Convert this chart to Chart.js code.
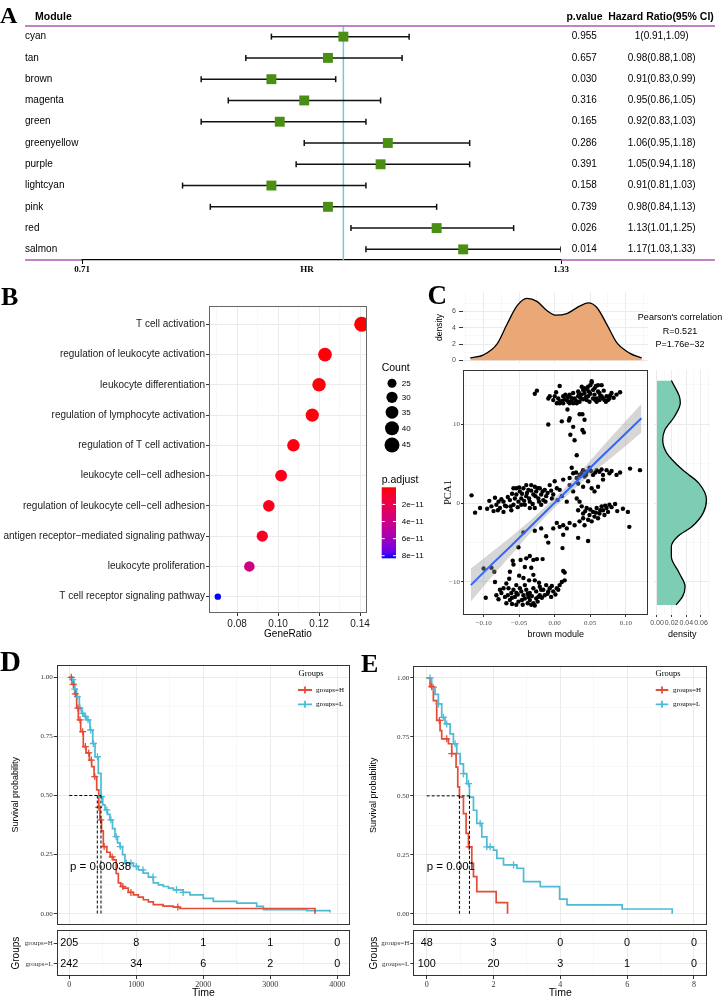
<!DOCTYPE html>
<html><head><meta charset="utf-8">
<script src="https://cdn.jsdelivr.net/npm/chart.js@4.4.1/dist/chart.umd.min.js"></script>
<style>
body{margin:0;background:#fff;}
#wrap{position:relative;width:723px;height:997px;overflow:hidden;background:#fff;}
canvas{position:absolute;}
.lab{position:absolute;font-family:"Liberation Serif","Times New Roman",serif;font-weight:bold;line-height:1;color:#000;}
</style></head><body><div id="wrap">
<canvas id="cA" width="723" height="280" style="left:0;top:0"></canvas>
<canvas id="cB" width="440" height="355" style="left:0;top:290px"></canvas>
<canvas id="cCt" width="303" height="85" style="left:420px;top:285px"></canvas>
<canvas id="cC" width="240" height="280" style="left:420px;top:365px"></canvas>
<canvas id="cCr" width="75" height="280" style="left:648px;top:365px"></canvas>
<canvas id="cD" width="360" height="285" style="left:0;top:645px"></canvas>
<canvas id="cDr" width="360" height="74" style="left:0;top:925px"></canvas>
<canvas id="cE" width="363" height="285" style="left:360px;top:645px"></canvas>
<canvas id="cEr" width="363" height="74" style="left:360px;top:925px"></canvas>
<div class="lab" style="left:0;top:2.5px;font-size:24px">A</div>
<div class="lab" style="left:1px;top:283.7px;font-size:26px">B</div>
<div class="lab" style="left:427.5px;top:282px;font-size:27px">C</div>
<div class="lab" style="left:0;top:646.6px;font-size:29px">D</div>
<div class="lab" style="left:361px;top:650.6px;font-size:26px">E</div>
</div>
<script>
// ---------------- DATA ----------------
// Panel A: forest plot
const modules = ['cyan','tan','brown','magenta','green','greenyellow','purple','lightcyan','pink','red','salmon'];
const hr      = [1,0.98,0.91,0.95,0.92,1.06,1.05,0.91,0.98,1.13,1.17];
const hrLow   = [0.91,0.88,0.83,0.86,0.83,0.95,0.94,0.81,0.84,1.01,1.03];
const hrHigh  = [1.09,1.08,0.99,1.05,1.03,1.18,1.18,1.03,1.13,1.25,1.33];
const pValues = ['0.955','0.657','0.030','0.316','0.165','0.286','0.391','0.158','0.739','0.026','0.014'];
const forestHeaders = ['Module','p.value','Hazard Ratio(95% CI)'];
const forestTicks = [0.71,1.33];
const forestTickLabels = ['0.71','1.33'];

// Panel B: GO dot plot
const goTerms = ['T cell activation','regulation of leukocyte activation','leukocyte differentiation','regulation of lymphocyte activation','regulation of T cell activation','leukocyte cell\u2212cell adhesion','regulation of leukocyte cell\u2212cell adhesion','antigen receptor\u2212mediated signaling pathway','leukocyte proliferation','T cell receptor signaling pathway'];
const geneRatio = [0.1408,0.1229,0.1200,0.1167,0.1075,0.1015,0.0955,0.0923,0.0860,0.0706];
const geneCount = [45,39,38,37,34,32,31,30,28,23];
const pAdjust   = [1e-13,6e-13,1.2e-12,1.5e-12,2.5e-12,3.5e-12,5e-12,6e-12,3.8e-11,8.3e-11];
const geneRatioTicks = [0.08,0.10,0.12,0.14];
const geneRatioTickLabels = ['0.08','0.10','0.12','0.14'];
const countBreaks = [25,30,35,40,45];
const pBreaks = [2e-11,4e-11,6e-11,8e-11];
const pBreakLabels = ['2e\u221211','4e\u221211','6e\u221211','8e\u221211'];

// Panel C: scatter brown module vs PCA1
const scatterPoints = [
[-0.028,13.9],[-0.025,14.3],[0.007,14.9],[0.002,14.1],[-0.009,13.3],[-0.002,13.1],[0.003,12.7],[0.007,12.9],[0.012,13.6],[0.017,13.1],[0.021,13.8],[0.026,14.0],[0.028,13.3],[0.033,13.6],[0.038,14.8],[0.040,14.4],[0.042,14.0],[0.045,13.1],[0.047,13.6],[0.049,12.9],[0.052,15.3],[0.054,14.4],[0.056,13.8],[0.059,13.3],[0.061,15.0],[0.063,14.0],[0.066,15.0],[0.068,13.3],[0.070,13.1],[0.073,13.6],[0.077,13.3],[0.080,14.0],[0.092,14.1],[0.012,12.7],[0.019,12.9],[0.035,12.9],[0.031,12.7],[0.052,15.5],[0.056,14.6],[0.047,14.8],[-0.007,13.6],[0.024,13.1],[0.007,12.7],[0.014,13.2],[0.042,14.6],[0.061,14.2],[0.038,13.8],[0.048,14.2],[0.059,12.9],[0.063,13.1],[0.005,13.3],[0.033,14.2],[0.021,12.7],[0.054,13.3],[0.066,13.6],[0.075,13.1],[0.040,13.2],[0.026,12.7],
[0.000,13.6],[0.010,13.0],[0.015,13.8],[0.023,13.4],[0.030,13.0],[0.036,13.4],[0.044,13.5],[0.050,13.9],[0.057,13.1],[0.064,13.6],[0.069,14.3],[0.072,12.9],[0.078,13.7],[0.045,14.5],[0.050,15.0],[0.058,14.9],[0.034,14.0],[0.018,13.5],[0.083,13.4],[0.087,13.8],
[0.018,11.9],[0.035,11.3],[0.039,11.3],[0.021,10.8],[0.020,10.5],[0.010,10.4],[0.042,10.6],[-0.009,10.0],[0.026,9.7],[0.039,9.3],[0.041,9.0],[0.022,8.7],[0.028,8.0],[0.031,6.1],
[-0.117,1.0],[-0.105,-0.6],[-0.112,-1.2],[-0.084,0.7],[-0.082,-0.2],[-0.077,-0.6],[-0.072,0.2],[-0.068,-0.4],[-0.063,0.4],[-0.058,1.9],[-0.058,-0.2],[-0.054,1.1],[-0.051,0.2],[-0.049,1.5],[-0.047,0.6],[-0.044,1.9],[-0.042,-0.2],[-0.040,0.9],[-0.037,1.7],[-0.035,0.2],[-0.033,2.3],[-0.030,1.1],[-0.028,-0.6],[-0.026,1.5],[-0.023,0.6],[-0.021,1.9],[-0.019,1.1],[-0.016,0.4],[-0.014,1.7],[-0.012,0.9],[-0.072,-1.1],[-0.089,-0.4],[-0.079,0.2],[-0.061,-0.9],[-0.047,-0.2],[-0.035,-0.6],[-0.019,-0.2],[-0.040,2.3],[-0.054,1.9],[-0.028,2.1],[0.000,2.8],[0.003,1.9],[-0.002,1.1],[0.007,1.7],[0.012,3.0],[0.010,0.9],[-0.007,2.3],[-0.005,1.6],
[-0.095,-0.7],[-0.092,0.3],[-0.086,-1.0],[-0.080,-0.9],[-0.075,0.5],[-0.070,-0.3],[-0.066,0.8],[-0.062,-0.4],[-0.060,1.2],[-0.056,0.6],[-0.052,-0.5],[-0.050,2.0],[-0.046,1.2],[-0.043,0.3],[-0.039,1.3],[-0.036,0.6],[-0.033,1.6],[-0.031,-0.1],[-0.027,0.9],[-0.024,1.9],[-0.022,0.2],[-0.017,1.5],[-0.013,0.2],[-0.010,1.3],[-0.004,0.6],[0.004,0.4],
[0.024,4.5],[0.026,3.8],[0.021,3.2],[0.031,3.2],[0.035,3.6],[0.040,4.2],[0.045,4.0],[0.049,4.5],[0.054,3.6],[0.059,4.2],[0.063,4.0],[0.068,3.6],[0.073,4.2],[0.077,3.8],[0.087,3.6],[0.106,4.4],[0.120,4.2],[0.033,2.5],[0.040,2.1],[0.047,2.8],[0.052,1.9],[0.056,1.5],[0.061,2.1],[0.068,3.0],[0.026,1.5],[0.031,0.6],[0.017,0.2],[0.035,0.2],[0.021,2.3],[0.042,3.4],
[0.030,3.9],[0.038,3.8],[0.044,3.6],[0.051,4.1],[0.057,3.9],[0.066,4.3],[0.080,4.1],[0.092,3.9],
[0.033,-0.9],[0.040,-1.3],[0.045,-0.6],[0.049,-1.5],[0.054,-1.1],[0.056,-1.7],[0.059,-0.6],[0.063,-1.3],[0.066,-0.4],[0.068,-0.9],[0.073,-0.6],[0.077,-0.2],[0.085,-0.1],[0.096,-0.7],[0.103,-1.1],[0.105,-3.0],[0.047,-2.1],[0.040,-1.9],[0.061,-1.9],[0.052,-2.3],[0.035,-2.3],[0.028,-2.8],[0.021,-2.5],[0.012,-2.8],[0.017,-3.2],[0.007,-3.0],[-0.002,-3.2],[-0.019,-3.2],[-0.028,-3.5],[-0.044,-3.7],[0.070,-1.5],[0.075,-1.1],[0.042,-2.8],[0.003,-2.5],
[0.038,-0.4],[0.043,-1.0],[0.050,-0.8],[0.058,-1.2],[0.064,-0.9],[0.071,-0.3],[0.080,-0.5],[0.088,-1.0],
[-0.012,-4.2],[-0.009,-5.0],[0.012,-4.0],[0.033,-4.4],[0.047,-4.8],[0.011,-5.7],[-0.051,-5.6],[-0.059,-7.3],[-0.058,-7.8],[-0.048,-7.2],[-0.040,-7.0],[-0.035,-6.7],[-0.030,-7.2],[-0.025,-7.1],[-0.017,-7.1],[-0.042,-8.1],[-0.033,-8.2],[-0.063,-8.7],[-0.044,-9.5],[-0.030,-9.1],[-0.028,-9.8],[0.012,-8.6],[0.014,-8.8],[0.014,-9.8],[-0.084,-10.0],[-0.068,-10.2],[-0.065,-10.8],[-0.058,-11.0],[-0.054,-11.4],[-0.049,-10.8],[-0.044,-11.7],[-0.040,-11.0],[-0.035,-11.4],[-0.030,-10.8],[-0.026,-11.2],[-0.021,-10.6],[-0.016,-11.0],[-0.012,-10.4],[-0.007,-10.8],[-0.002,-11.2],[0.003,-10.8],[0.007,-10.4],[0.010,-10.0],[-0.082,-11.7],[-0.077,-11.0],[-0.070,-11.9],[-0.063,-12.3],[-0.056,-11.9],[-0.051,-12.5],[-0.042,-12.1],[-0.035,-12.3],[-0.030,-12.7],[-0.026,-12.1],[-0.021,-11.7],[-0.014,-11.7],[-0.005,-11.9],[-0.097,-12.0],[-0.079,-12.2],[-0.068,-12.7],[-0.054,-12.9],[-0.033,-12.9],[-0.028,-13.0],[-0.047,-11.2],[-0.019,-11.0],[-0.009,-11.2],[-0.042,-10.4],[-0.054,-10.4],[-0.072,-10.8],[-0.061,-11.4],[-0.037,-11.9],[-0.023,-11.9],[-0.100,-8.3],[-0.089,-8.2],[-0.085,-8.7],
[-0.075,-11.4],[-0.066,-11.7],[-0.060,-12.0],[-0.052,-11.6],[-0.046,-12.3],[-0.038,-11.5],[-0.032,-11.8],[-0.024,-12.5],[-0.018,-12.0],[-0.010,-11.5],[-0.004,-10.5],[0.001,-11.6],[0.005,-11.0],[-0.060,-12.8],[-0.045,-12.9],[-0.038,-12.7],[-0.064,-9.6],[-0.050,-9.2],[-0.036,-9.8],[-0.022,-10.1]
];
const fitX     = [-0.118,-0.09,-0.06,-0.03,0,0.03,0.06,0.09,0.122];
const fitY     = [-10.4,-7.9,-5.3,-2.6,0.05,2.7,5.4,8.0,10.8];
const bandLow  = [-12.5,-9.5,-6.45,-3.35,-0.55,2.0,4.35,6.55,9.0];
const bandHigh = [-8.3,-6.3,-4.15,-1.85,0.65,3.4,6.45,9.45,12.6];
const topDensX = [-0.1187,-0.100,-0.0812,-0.0671,-0.0531,-0.0390,-0.0250,-0.0110,0.0007,0.0171,0.0358,0.0475,0.0593,0.0733,0.0874,0.1060,0.1225];
const topDensY = [0.29,0.68,1.98,4.42,6.68,7.61,7.24,6.11,5.55,5.74,6.68,7.05,6.48,4.42,2.17,0.86,0.29];
const rightDensPCA = [-12.92,-11.87,-10.6,-8.89,-6.79,-5.51,-4.24,-2.97,-1.23,0.42,2.58,4.23,6.39,8.04,9.31,11.0,12.74,13.55,15.56];
const rightDensVal = [0.0261,0.0348,0.0383,0.0305,0.0196,0.0196,0.0282,0.0478,0.0631,0.0675,0.0566,0.0348,0.0131,0.0078,0.0108,0.0239,0.0318,0.0305,0.0196];
const brownTicks = [-0.10,-0.05,0,0.05,0.10];
const brownTickLabels = ['\u22120.10','\u22120.05','0.00','0.05','0.10'];
const pcaTicks = [-10,0,10];
const pcaTickLabels = ['\u221210','0','10'];
const topDensTicks = [0,2,4,6];
const topDensTickLabels = ['0','2','4','6'];
const rightDensTicks = [0,0.02,0.04,0.06];
const rightDensTickLabels = ['0.00','0.02','0.04','0.06'];
const pearsonText = ["Pearson's correlation",'R=0.521','P=1.76e\u221232'];

// Panel D: KM (days)
const kmD_H_time = [0,40,80,110,135,170,209,250,300,334,370,409,440,458,480,508,560,610,657,700,732,770,806,880,956,1030,1105,1180,1254,1400,1553,1650,3668];
const kmD_H_surv = [1,0.97,0.93,0.87,0.82,0.77,0.707,0.68,0.65,0.622,0.58,0.524,0.45,0.397,0.35,0.284,0.26,0.24,0.228,0.17,0.13,0.115,0.108,0.09,0.08,0.07,0.059,0.05,0.038,0.032,0.028,0.022,0];
const kmD_L_time = [0,36,70,110,150,185,220,259,309,350,384,433,473,500,533,570,607,645,682,720,757,795,831,956,1030,1105,1180,1254,1330,1403,1480,1553,1700,1801,2000,2150,2500,2797,2897,3545,3890];
const kmD_L_surv = [1,0.99,0.95,0.918,0.87,0.847,0.835,0.82,0.777,0.72,0.664,0.594,0.495,0.46,0.439,0.42,0.397,0.36,0.326,0.3,0.284,0.25,0.214,0.2,0.185,0.172,0.155,0.13,0.122,0.115,0.108,0.101,0.09,0.08,0.065,0.052,0.045,0.031,0.017,0.013,0.005];
const kmD_H_censor = [30,60,90,130,160,200,240,290,330,380,440,470,520,640,800,920,1620];
const kmD_L_censor = [50,80,120,160,200,240,280,320,360,420,480,560,620,700,760,850,920,1000,1100,1250,1600,1700];
const kmD_median = [418,473];
const kmD_ticks = [0,1000,2000,3000,4000];
const kmD_tickLabels = ['0','1000','2000','3000','4000'];
const riskD_H = [205,8,1,1,0];
const riskD_L = [242,34,6,2,0];
const pTextD = 'p = 0.00038';

// Panel E: KM (years)
const kmE_H_time = [0,0.1,0.2,0.3,0.4,0.45,0.65,0.75,0.88,0.93,0.98,1.1,1.18,1.25,1.35,1.4,1.5,2.08,2.42];
const kmE_H_surv = [1,0.963,0.904,0.82,0.777,0.742,0.721,0.679,0.622,0.538,0.495,0.425,0.341,0.284,0.214,0.157,0.094,0.047,0];
const kmE_L_time = [0,0.15,0.25,0.35,0.45,0.55,0.7,0.8,0.9,1.0,1.1,1.2,1.28,1.4,1.5,1.65,1.8,2.0,2.1,2.3,2.7,2.9,3.4,3.98,4.2,5.85,7.35];
const kmE_L_surv = [1,0.96,0.93,0.89,0.833,0.805,0.763,0.721,0.679,0.636,0.594,0.552,0.495,0.439,0.383,0.326,0.284,0.27,0.235,0.207,0.193,0.136,0.115,0.062,0.038,0.02,0];
const kmE_H_censor = [0.15,0.38,0.6,0.75,1.27];
const kmE_L_censor = [0.1,0.2,0.35,0.5,0.6,0.85,1.1,1.25,1.6,1.8,1.9,2.6];
const kmE_median = [0.98,1.28];
const kmE_ticks = [0,2,4,6,8];
const kmE_tickLabels = ['0','2','4','6','8'];
const riskE_H = [48,3,0,0,0];
const riskE_L = [100,20,3,1,0];
const pTextE = 'p = 0.001';
const groupNames = ['groups=H','groups=L'];
const survTicks = [0,0.25,0.5,0.75,1];
const survTickLabels = ['0.00','0.25','0.50','0.75','1.00'];

// ---------------- HELPERS ----------------
const SANS = '"Liberation Sans", Arial, Helvetica, sans-serif';
const SERIF = '"Liberation Serif", "Times New Roman", serif';
Chart.defaults.font.family = SANS;
const RED = '#E64B35', BLUE = '#4DBBD5';

function baseOptions(extra){
  const o = {responsive:false, animation:false, devicePixelRatio:1, events:[], plugins:{legend:{display:false}, tooltip:{enabled:false}}};
  for (const k in extra){ if(k==='plugins') Object.assign(o.plugins, extra.plugins); else o[k]=extra[k]; }
  return o;
}
function makeAxis(o){
  const majors=o.majors||[], minors=o.minors||[];
  const all=majors.concat(minors).sort((a,b)=>a-b);
  const isMajor=v=>majors.some(m=>Math.abs(m-v)<1e-12);
  return {
    type:o.type||'linear', min:o.min, max:o.max, reverse:!!o.reverse,
    afterBuildTicks:s=>{ s.ticks=all.map(v=>({value:v})); },
    afterFit:s=>{ if(o.size!==undefined){ if(s.isHorizontal()) s.height=o.size; else s.width=o.size; } },
    ticks:{display:!!o.labels, autoSkip:false, maxRotation:0, minRotation:0, padding:o.pad??2, color:o.color||'#4D4D4D', font:o.font||{size:7},
      callback:v=>{ const i=majors.findIndex(m=>Math.abs(m-v)<1e-12); return (i>=0&&o.labels)?o.labels[i]:''; }},
    grid:{display:o.grid!==false, drawOnChartArea:o.grid!==false,
      color:c=>(c.tick&&isMajor(c.tick.value))?'#EBEBEB':'#F4F4F4',
      lineWidth:c=>(c.tick&&isMajor(c.tick.value))?1:0.6,
      drawTicks:!!o.tickLen, tickLength:o.tickLen||0,
      tickColor:c=>(c.tick&&isMajor(c.tick.value))?'#333':'rgba(0,0,0,0)'},
    border:{display:false},
    title:o.title?{display:true,text:o.title,color:'#000',font:o.titleFont||{size:10},padding:o.titlePad||0}:{display:false}
  };
}
const framePlugin={id:'frame',afterDraw(ch,args,o){ if(!o||!o.on) return; const a=ch.chartArea,c=ch.ctx; c.save(); c.strokeStyle=o.color||'#333'; c.lineWidth=1;
  c.strokeRect(Math.round(a.left)+0.5,Math.round(a.top)+0.5,Math.round(a.right-a.left)-1,Math.round(a.bottom-a.top)-1); c.restore(); }};

// Lab colour interpolation (red -> blue)
function toLab(rgb){const l=rgb.map(c=>{c/=255;return c<=0.04045?c/12.92:Math.pow((c+0.055)/1.055,2.4);});
  const X=(0.4124*l[0]+0.3576*l[1]+0.1805*l[2])/0.95047,Y=0.2126*l[0]+0.7152*l[1]+0.0722*l[2],Z=(0.0193*l[0]+0.1192*l[1]+0.9505*l[2])/1.08883;
  const f=t=>t>0.008856?Math.cbrt(t):7.787*t+16/116; return [116*f(Y)-16,500*(f(X)-f(Y)),200*(f(Y)-f(Z))];}
function fromLab(L,a,b){const fy=(L+16)/116,fx=fy+a/500,fz=fy-b/200;const inv=t=>t*t*t>0.008856?t*t*t:(t-16/116)/7.787;
  const X=inv(fx)*0.95047,Y=inv(fy),Z=inv(fz)*1.08883;
  const r=3.2406*X-1.5372*Y-0.4986*Z,g=-0.9689*X+1.8758*Y+0.0415*Z,bb=0.0557*X-0.2040*Y+1.0570*Z;
  const s=v=>{v=Math.max(0,v);v=v<=0.0031308?12.92*v:1.055*Math.pow(v,1/2.4)-0.055;return Math.round(Math.min(1,v)*255);};
  return 'rgb('+s(r)+','+s(g)+','+s(bb)+')';}
const LAB_R=toLab([255,0,0]),LAB_B=toLab([0,0,255]);
const P_MIN=0,P_MAX=8.3e-11;
function pColor(p){const t=Math.min(1,Math.max(0,(p-P_MIN)/(P_MAX-P_MIN)));return fromLab(...LAB_R.map((v,i)=>v+(LAB_B[i]-v)*t));}
const C_MIN=Math.min(...geneCount),C_MAX=Math.max(...geneCount);
function sizeFor(c){return 3.2+4.3*Math.sqrt(Math.max(0,(c-C_MIN)/(C_MAX-C_MIN)));}

// ---------------- PANEL A ----------------
const forestPlugin={id:'forest',
  beforeDatasetsDraw(ch){const {ctx,chartArea:a,scales:{x}}=ch;const px=x.getPixelForValue(1);
    ctx.save();ctx.strokeStyle='#7CC6D6';ctx.lineWidth=1.5;ctx.beginPath();ctx.moveTo(px,a.top);ctx.lineTo(px,a.bottom);ctx.stroke();ctx.restore();},
  afterDraw(ch){const {ctx,chartArea:a,scales:{y}}=ch;ctx.save();
    ctx.strokeStyle='#B05AB5';ctx.lineWidth=1.5;ctx.beginPath();
    ctx.moveTo(25,a.top);ctx.lineTo(715,a.top);ctx.moveTo(25,a.bottom);ctx.lineTo(a.left,a.bottom);ctx.moveTo(a.right,a.bottom);ctx.lineTo(715,a.bottom);ctx.stroke();
    ctx.fillStyle='#000';ctx.textBaseline='middle';
    ctx.font='bold 10.5px '+SANS;ctx.textAlign='left';ctx.fillText(forestHeaders[0],35,16.7);
    ctx.textAlign='center';ctx.fillText(forestHeaders[1],584.5,16.7);ctx.fillText(forestHeaders[2],661,16.7);
    ctx.font='10px '+SANS;
    modules.forEach((m,i)=>{const py=y.getPixelForValue(i);ctx.textAlign='left';ctx.fillText(m,25,py);
      ctx.textAlign='center';ctx.fillText(pValues[i],584.3,py);ctx.fillText(hr[i]+'('+hrLow[i]+','+hrHigh[i]+')',661.7,py);});
    ctx.font='bold 9px '+SERIF;ctx.fillText('HR',307,269.5);
    ctx.restore();}};
new Chart(document.getElementById('cA'),{type:'line',
  data:{datasets:[
    ...modules.map((m,i)=>({data:[{x:hrLow[i],y:i},{x:hrHigh[i],y:i}],borderColor:'#111',borderWidth:1.5,pointRadius:0,order:3})),
    {data:modules.flatMap((m,i)=>[{x:hrLow[i],y:i},{x:hrHigh[i],y:i}]),showLine:false,pointStyle:'line',pointRotation:90,pointRadius:3,pointBorderColor:'#111',pointBorderWidth:1.5,order:2},
    {data:modules.map((m,i)=>({x:hr[i],y:i})),showLine:false,pointStyle:'rect',pointRadius:7,pointBackgroundColor:'#4A8F13',pointBorderColor:'#4A8F13',pointBorderWidth:0,order:1}
  ]},
  options:baseOptions({layout:{padding:{left:82,right:162,top:26,bottom:0}},
    scales:{
      x:{type:'logarithmic',min:0.71,max:1.33,afterBuildTicks:s=>{s.ticks=forestTicks.map(v=>({value:v}));},afterFit:s=>{s.height=20;},
        ticks:{display:true,padding:0,color:'#000',font:{family:SERIF,weight:'bold',size:9},autoSkip:false,maxRotation:0,
          callback:v=>{const i=forestTicks.findIndex(t=>Math.abs(t-v)<1e-9);return i>=0?forestTickLabels[i]:'';}},
        grid:{drawOnChartArea:false,drawTicks:true,tickLength:4,color:'#000',lineWidth:1},border:{display:true,color:'#000',width:1.2}},
      y:{type:'linear',min:-0.5,max:10.5,reverse:true,display:false}}}),
  plugins:[forestPlugin]});

// ---------------- PANEL B ----------------
const bLegend={id:'bLegend',afterDraw(ch){const ctx=ch.ctx;ctx.save();ctx.fillStyle='#000';ctx.textBaseline='middle';ctx.textAlign='left';
  ctx.font='10.5px '+SANS;ctx.fillText('Count',381.7,78.3);
  const keyY=[93.3,107.3,122.3,138.3,155];
  countBreaks.forEach((c,i)=>{ctx.fillStyle='#000';ctx.beginPath();ctx.arc(392,keyY[i],sizeFor(c),0,Math.PI*2);ctx.fill();
    ctx.font='8px '+SANS;ctx.fillText(String(c),401.7,keyY[i]);});
  ctx.font='10.5px '+SANS;ctx.fillText('p.adjust',381.7,190);
  const top=197.3,bot=268.3,l=381.7,w=14.3;
  const g=ctx.createLinearGradient(0,top,0,bot);for(let k=0;k<=12;k++){g.addColorStop(k/12,pColor(P_MIN+(P_MAX-P_MIN)*k/12));}
  ctx.fillStyle=g;ctx.fillRect(l,top,w,bot-top);
  pBreaks.forEach((p,i)=>{const yy=top+(p-P_MIN)/(P_MAX-P_MIN)*(bot-top);ctx.strokeStyle='#fff';ctx.lineWidth=1;ctx.beginPath();
    ctx.moveTo(l,yy);ctx.lineTo(l+3,yy);ctx.moveTo(l+w-3,yy);ctx.lineTo(l+w,yy);ctx.stroke();
    ctx.fillStyle='#000';ctx.font='8px '+SANS;ctx.fillText(pBreakLabels[i],401.7,yy);});
  ctx.restore();}};
new Chart(document.getElementById('cB'),{type:'line',
  data:{datasets:[{data:goTerms.map((t,i)=>({x:geneRatio[i],y:i+1})),showLine:false,pointRadius:geneCount.map(sizeFor),
    pointBackgroundColor:pAdjust.map(pColor),pointBorderWidth:0}]},
  options:baseOptions({layout:{padding:{left:0,right:73,top:16,bottom:0}},
    scales:{
      x:makeAxis({min:0.0663,max:0.1434,majors:geneRatioTicks,minors:[0.07,0.09,0.11,0.13],labels:geneRatioTickLabels,size:32,tickLen:3,pad:2,color:'#1A1A1A',font:{size:10},title:'GeneRatio',titleFont:{size:10},titlePad:{top:0,bottom:5}}),
      y:makeAxis({min:0.395,max:10.54,reverse:true,majors:goTerms.map((t,i)=>i+1),labels:goTerms,size:209,tickLen:3,pad:1,color:'#1A1A1A',font:{size:10}})},
    plugins:{frame:{on:true,color:'#666'}}}),
  plugins:[framePlugin,bLegend]});

// ---------------- PANEL C ----------------
const brownMinor=[-0.125,-0.075,-0.025,0.025,0.075,0.125];
const pearsonPlugin={id:'pearson',afterDraw(ch){const ctx=ch.ctx;ctx.save();ctx.fillStyle='#000';ctx.textAlign='center';ctx.textBaseline='middle';
  ctx.font='9px '+SANS;ctx.fillText(pearsonText[0],260,32.3);ctx.fillText(pearsonText[1],260,46.7);ctx.fillText(pearsonText[2],260,59.3);ctx.restore();}};
new Chart(document.getElementById('cCt'),{type:'line',
  data:{datasets:[{data:topDensX.map((x,i)=>({x,y:topDensY[i]})),borderColor:'#000',borderWidth:1.3,backgroundColor:'#EBA877',fill:'origin',pointRadius:0,cubicInterpolationMode:'monotone'}]},
  options:baseOptions({layout:{padding:{left:0,right:74.7,top:5,bottom:3}},
    scales:{
      x:makeAxis({min:-0.129,max:0.1317,majors:brownTicks,minors:brownMinor,size:0}),
      y:makeAxis({min:-0.3,max:8.36,majors:topDensTicks,minors:[1,3,5,7],labels:topDensTickLabels,size:43,tickLen:4,pad:3,color:'#4D4D4D',font:{size:7},title:'density',titleFont:{size:8.5},titlePad:{top:15}})}}),
  plugins:[pearsonPlugin]});

new Chart(document.getElementById('cC'),{type:'line',
  data:{datasets:[
    {data:scatterPoints.map(p=>({x:p[0],y:p[1]})),showLine:false,pointRadius:2.2,pointBackgroundColor:'#000',pointBorderWidth:0,order:3},
    {data:fitX.map((x,i)=>({x,y:bandHigh[i]})),borderColor:'rgba(0,0,0,0)',borderWidth:0,pointRadius:0,fill:false,cubicInterpolationMode:'monotone',order:2},
    {data:fitX.map((x,i)=>({x,y:bandLow[i]})),borderColor:'rgba(0,0,0,0)',borderWidth:0,pointRadius:0,fill:'-1',backgroundColor:'rgba(153,153,153,0.4)',cubicInterpolationMode:'monotone',order:2},
    {data:fitX.map((x,i)=>({x,y:fitY[i]})),borderColor:'#3366FF',borderWidth:2,pointRadius:0,order:0}
  ]},
  options:baseOptions({layout:{padding:{left:0,right:11.7,top:5,bottom:0}},
    scales:{
      x:makeAxis({min:-0.129,max:0.1317,majors:brownTicks,minors:brownMinor,labels:brownTickLabels,size:30,tickLen:2,pad:2,color:'#4D4D4D',font:{family:SERIF,size:7},title:'brown module',titleFont:{size:9},titlePad:{top:0,bottom:5.5}}),
      y:makeAxis({min:-14.2,max:16.9,majors:pcaTicks,minors:[-5,5,15],labels:pcaTickLabels,size:43,tickLen:2,pad:1,color:'#4D4D4D',font:{family:SERIF,size:7},title:'PCA1',titleFont:{family:SERIF,size:10},titlePad:{top:22}})},
    plugins:{frame:{on:true,color:'#333'}}}),
  plugins:[framePlugin]});

new Chart(document.getElementById('cCr'),{type:'line',
  data:{datasets:[{data:rightDensPCA.map((y,i)=>({x:rightDensVal[i],y})),borderColor:'#000',borderWidth:1.3,backgroundColor:'#7CCDB4',fill:'origin',pointRadius:0,cubicInterpolationMode:'monotone'}]},
  options:baseOptions({indexAxis:'y',layout:{padding:{left:4,right:13,top:5,bottom:0}},
    scales:{
      x:makeAxis({min:-0.0035,max:0.0723,majors:rightDensTicks,minors:[0.01,0.03,0.05,0.07],labels:rightDensTickLabels,size:30,tickLen:2,pad:2,color:'#4D4D4D',font:{size:7},title:'density',titleFont:{size:9},titlePad:{top:0,bottom:5.5}}),
      y:makeAxis({min:-14.2,max:16.9,majors:pcaTicks,minors:[-5,5,15],size:0})}})});

// ---------------- PANELS D & E ----------------
function survAt(times,surv,t){let s=1;for(let i=0;i<times.length;i++){if(times[i]<=t)s=surv[i];}return s;}
function kmDecor(pText,pX,lg){return {id:'kmDecor',afterDraw(ch){const ctx=ch.ctx;ctx.save();ctx.fillStyle='#000';ctx.textBaseline='middle';
  ctx.font='11.5px '+SANS;ctx.textAlign='left';ctx.fillText(pText,pX,222.3);
  ctx.font='8.5px '+SERIF;ctx.textAlign='center';ctx.fillText('Groups',lg.titleX,29);
  [[RED,45],[BLUE,59.3]].forEach((e,i)=>{ctx.strokeStyle=e[0];ctx.lineWidth=1.8;ctx.beginPath();ctx.moveTo(lg.x1,e[1]);ctx.lineTo(lg.x2,e[1]);
    const mx=(lg.x1+lg.x2)/2;ctx.moveTo(mx,e[1]-3.5);ctx.lineTo(mx,e[1]+3.5);ctx.stroke();
    ctx.fillStyle='#000';ctx.font='7px '+SERIF;ctx.textAlign='left';ctx.fillText(groupNames[i],lg.tx,e[1]);});
  ctx.restore();}};}
function kmChart(id,o){
  const dash={borderColor:'#000',borderWidth:1,borderDash:[3,2],pointRadius:0,order:0};
  const mMax=Math.max(...o.median);
  new Chart(document.getElementById(id),{type:'line',
    data:{datasets:[
      {data:o.hT.map((t,i)=>({x:t,y:o.hS[i]})),stepped:true,borderColor:RED,borderWidth:1.7,pointRadius:0,order:2},
      {data:o.lT.map((t,i)=>({x:t,y:o.lS[i]})),stepped:true,borderColor:BLUE,borderWidth:1.7,pointRadius:0,order:3},
      {data:o.hC.map(t=>({x:t,y:survAt(o.hT,o.hS,t)})),showLine:false,pointStyle:'cross',pointRadius:3.5,pointBorderColor:RED,pointBorderWidth:1.3,order:1},
      {data:o.lC.map(t=>({x:t,y:survAt(o.lT,o.lS,t)})),showLine:false,pointStyle:'cross',pointRadius:3.5,pointBorderColor:BLUE,pointBorderWidth:1.3,order:1},
      Object.assign({data:[{x:0,y:0.5},{x:mMax,y:0.5}]},dash),
      ...o.median.map(m=>Object.assign({data:[{x:m,y:0.5},{x:m,y:0}]},dash))
    ]},
    options:baseOptions({layout:{padding:{left:0,right:o.padR,top:o.padT,bottom:5}},
      scales:{
        x:makeAxis({min:o.xmin,max:o.xmax,majors:o.ticks,minors:o.minors,size:0}),
        y:makeAxis({min:-0.0465,max:1.052,majors:survTicks,minors:[0.125,0.375,0.625,0.875],labels:survTickLabels,size:o.yW,tickLen:3,pad:1,color:'#333',font:{family:SERIF,size:7},title:'Survival probability',titleFont:{size:9},titlePad:{top:o.tPad}})},
      plugins:{frame:{on:true,color:'#333'}}}),
    plugins:[framePlugin,kmDecor(o.pText,o.pX,o.lg)]});
}
function riskChart(id,o){
  const riskPlugin={id:'risk',afterDraw(ch){const {ctx,scales:{x,y}}=ch;ctx.save();ctx.fillStyle='#000';ctx.textAlign='center';ctx.textBaseline='middle';ctx.font='10.8px '+SANS;
    o.ticks.forEach((t,i)=>{ctx.fillText(String(o.rH[i]),x.getPixelForValue(t),y.getPixelForValue(1));ctx.fillText(String(o.rL[i]),x.getPixelForValue(t),y.getPixelForValue(2));});ctx.restore();}};
  new Chart(document.getElementById(id),{type:'line',
    data:{datasets:[{data:o.ticks.map(t=>({x:t,y:1})),showLine:false,pointRadius:0}]},
    options:baseOptions({layout:{padding:{left:0,right:o.padR,top:3,bottom:0}},
      scales:{
        x:makeAxis({min:o.xmin,max:o.xmax,majors:o.ticks,minors:o.minors,labels:o.labels,size:23,tickLen:3,pad:1,color:'#333',font:{family:SERIF,size:8},title:'Time',titleFont:{size:10.5},titlePad:{top:0,bottom:0}}),
        y:makeAxis({min:0.366,max:2.588,reverse:true,majors:[1,2],labels:groupNames,size:o.yW,tickLen:3,pad:1,color:'#333',font:{family:SERIF,size:7},title:'Groups',titleFont:{size:10},titlePad:{top:o.tPad}})},
      plugins:{frame:{on:true,color:'#333'}}}),
    plugins:[framePlugin,riskPlugin]});
}
kmChart('cD',{hT:kmD_H_time,hS:kmD_H_surv,lT:kmD_L_time,lS:kmD_L_surv,hC:kmD_H_censor,lC:kmD_L_censor,median:kmD_median,
  xmin:-188,xmax:4190,ticks:kmD_ticks,minors:[500,1500,2500,3500],yW:56.7,padR:10,padT:20,tPad:10,pText:pTextD,pX:70,
  lg:{titleX:311,x1:298,x2:312,tx:316}});
riskChart('cDr',{xmin:-188,xmax:4190,ticks:kmD_ticks,minors:[500,1500,2500,3500],labels:kmD_tickLabels,rH:riskD_H,rL:riskD_L,yW:56.7,padR:10,tPad:10});
kmChart('cE',{hT:kmE_H_time,hS:kmE_H_surv,lT:kmE_L_time,lS:kmE_L_surv,hC:kmE_H_censor,lC:kmE_L_censor,median:kmE_median,
  xmin:-0.401,xmax:8.40,ticks:kmE_ticks,minors:[1,3,5,7],yW:53.3,padR:15.7,padT:20.7,tPad:8,pText:pTextE,pX:66.7,
  lg:{titleX:308,x1:295.7,x2:308.3,tx:313}});
riskChart('cEr',{xmin:-0.401,xmax:8.40,ticks:kmE_ticks,minors:[1,3,5,7],labels:kmE_tickLabels,rH:riskE_H,rL:riskE_L,yW:53.3,padR:15.7,tPad:8});
</script>
</body></html>
